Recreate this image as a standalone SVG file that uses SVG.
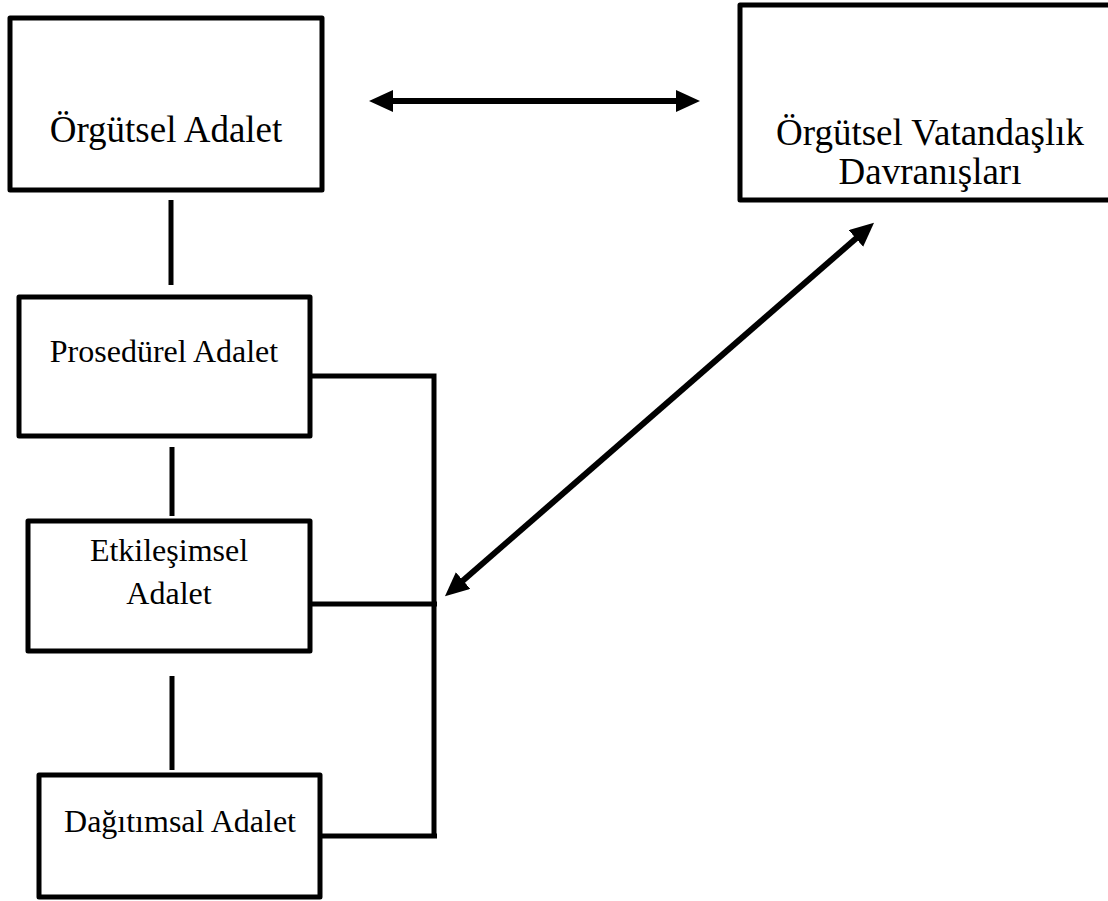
<svg xmlns="http://www.w3.org/2000/svg" width="1108" height="901" viewBox="0 0 1108 901">
  <style>
    .box { fill: #ffffff; stroke: #000000; stroke-width: 5; stroke-linejoin: round; }
    .lbl { font-family: "Liberation Serif", "Times New Roman", serif; fill: #000000; text-anchor: middle; }
    .big { font-size: 37px; }
    .small { font-size: 32px; }
    .conn { fill: none; stroke: #000000; stroke-width: 5; stroke-linecap: butt; }
    .arrow { fill: none; stroke: #000000; stroke-width: 6; }
  </style>
  <defs>
    <marker id="ah" markerUnits="userSpaceOnUse" markerWidth="26" markerHeight="24" refX="16" refY="11" orient="auto-start-reverse" viewBox="0 0 26 24">
      <path d="M0,0 L24,11 L0,22 Z" fill="#000000"/>
    </marker>
  </defs>
  <rect width="1108" height="901" fill="#ffffff"/>

  <g id="connectors">
    <line class="conn" x1="171" y1="200" x2="171" y2="285"/>
    <line class="conn" x1="172" y1="447" x2="172" y2="516"/>
    <line class="conn" x1="172" y1="676" x2="172" y2="770"/>
    <polyline class="conn" points="310,376 434,376 434,834"/>
    <line class="conn" x1="310" y1="604" x2="437" y2="604"/>
    <line class="conn" x1="320" y1="836" x2="437" y2="836"/>
    <line class="arrow" x1="377" y1="101" x2="692" y2="101" marker-start="url(#ah)" marker-end="url(#ah)"/>
    <line class="arrow" x1="451" y1="591" x2="868" y2="228" marker-start="url(#ah)" marker-end="url(#ah)"/>
  </g>

  <g id="node-orgutsel-adalet">
    <rect class="box" x="10" y="18" width="312" height="172"/>
    <text class="lbl big" x="166" y="142">Örgütsel Adalet</text>
  </g>

  <g id="node-ovd">
    <rect class="box" x="740" y="5" width="380" height="195"/>
    <text class="lbl big" x="930" y="145">Örgütsel Vatandaşlık</text>
    <text class="lbl big" x="930" y="184">Davranışları</text>
  </g>

  <g id="node-prosedurel">
    <rect class="box" x="19" y="297" width="291" height="139"/>
    <text class="lbl small" x="164" y="362">Prosedürel Adalet</text>
  </g>

  <g id="node-etkilesimsel">
    <rect class="box" x="28" y="521" width="282" height="130"/>
    <text class="lbl small" x="169" y="561">Etkileşimsel</text>
    <text class="lbl small" x="169" y="604">Adalet</text>
  </g>

  <g id="node-dagitimsal">
    <rect class="box" x="39" y="775" width="281" height="122"/>
    <text class="lbl small" x="180" y="832">Dağıtımsal Adalet</text>
  </g>
</svg>
